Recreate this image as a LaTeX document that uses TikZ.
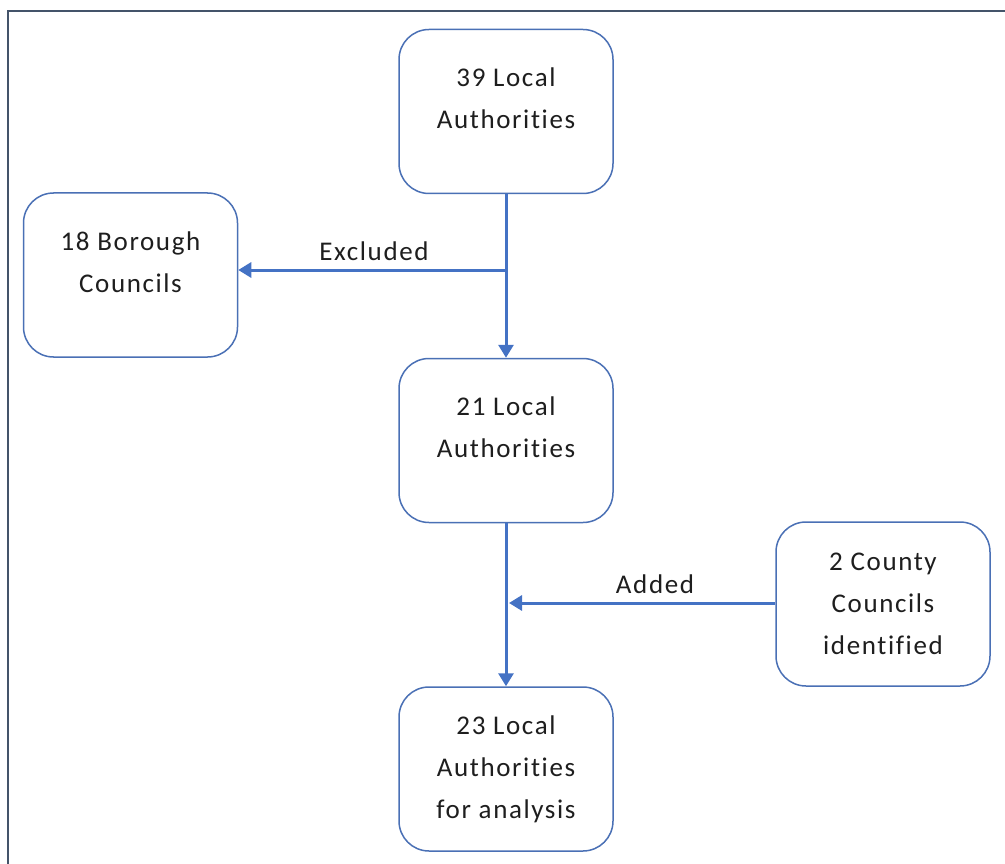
\documentclass[tikz,border=0pt]{standalone}
\usepackage{fontspec}
\setmainfont{Carlito}[LetterSpace=6, Ligatures=NoCommon]
\usetikzlibrary{arrows.meta}
\definecolor{frameblue}{HTML}{44546A}
\definecolor{boxblue}{HTML}{4A70B5}
\definecolor{arrowblue}{HTML}{4472C4}
\definecolor{textgray}{HTML}{1E1E1E}
\begin{document}
\begin{tikzpicture}[x=1pt,y=-1pt,
  stage/.style={draw=boxblue, line width=1.5pt, rounded corners=30pt, fill=white,
    minimum width=214pt, minimum height=164pt, align=center, text=textgray,
    font=\fontsize{27}{42}\selectfont},
  lifted/.style={text depth=26pt},
  flow/.style={draw=arrowblue, line width=3pt, -{Triangle[length=13pt,width=15pt]}},
  tag/.style={anchor=base, text=textgray, font=\fontsize{27}{42}\selectfont, inner sep=0pt}]
  \useasboundingbox (0,0) rectangle (1005,864);
  % page frame (left and top edges)
  \draw[frameblue, line width=2pt] (8,864) -- (8,11) -- (1005,11);

  \node[stage, lifted] (la39) at (506,111.5) {39 Local\\Authorities};
  \node[stage, lifted] (bc18) at (130.5,275) {18 Borough\\Councils};
  \node[stage, lifted] (la21) at (506,440.5) {21 Local\\Authorities};
  \node[stage] (cc2)  at (883,604) {2 County\\Councils\\identified};
  \node[stage] (la23) at (506,769) {23 Local\\Authorities\\for analysis};

  \coordinate (split) at (506,270);
  \coordinate (merge) at (509,603);

  \draw[flow] (la39) -- (la21);
  \draw[flow] (split) -- (bc18.east |- split);
  \node[tag] (excl) at (374,260) {Excluded};

  \draw[flow] (la21) -- (la23);
  \draw[flow] (cc2.west |- merge) -- (merge);
  \node[tag] (added) at (655,593) {Added};
\end{tikzpicture}
\end{document}
